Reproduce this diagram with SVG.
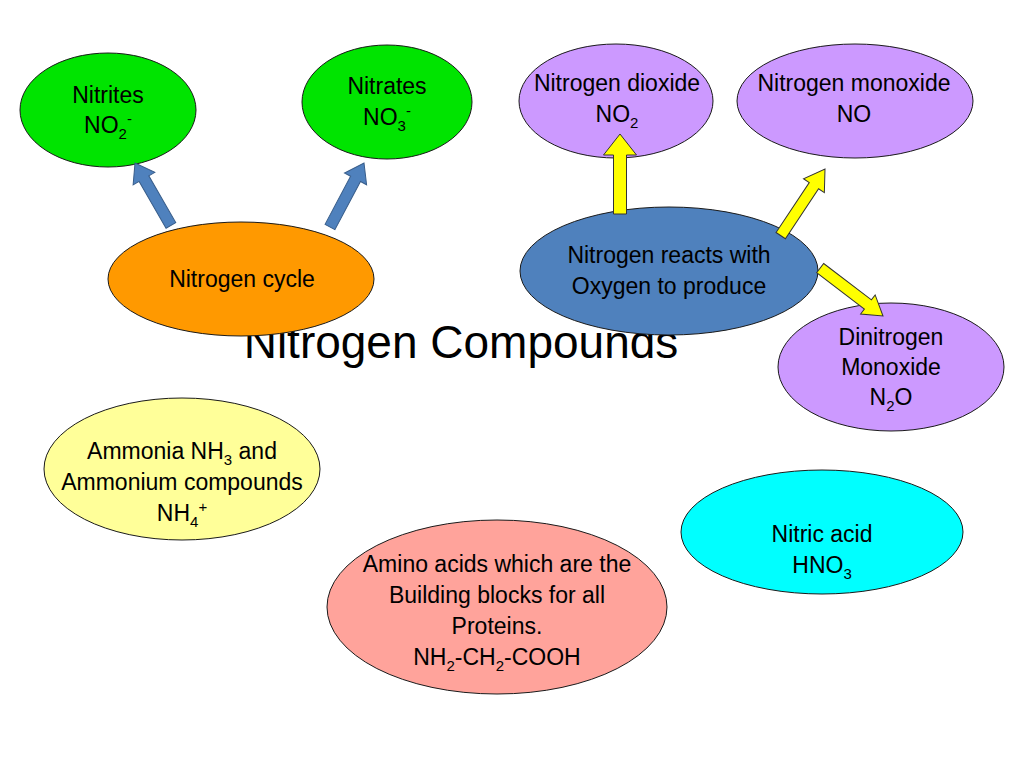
<svg xmlns="http://www.w3.org/2000/svg" width="1024" height="768" viewBox="0 0 1024 768">
<style>
.t{font-family:"Liberation Sans",Arial,sans-serif;font-size:23px;fill:#000;text-anchor:middle}
.title{font-family:"Liberation Sans",Arial,sans-serif;font-size:46px;fill:#000;text-anchor:middle}
.e{stroke:#1a1a1a;stroke-width:1}
.s{font-size:15px}
.ba{fill:#4F81BD;stroke:#385D8A;stroke-width:1}
.ya{fill:#FFFF00;stroke:#333;stroke-width:1}
</style>
<rect width="1024" height="768" fill="#fff"/>
<text class="title" x="461" y="358">Nitrogen Compounds</text>
<g id="nodes">
<g id="nitrites"><ellipse class="e" cx="108" cy="110" rx="88" ry="57" fill="#00E400"/>
<text class="t" x="108" y="103">Nitrites</text>
<text class="t" x="108" y="133">NO<tspan class="s" dy="6">2</tspan><tspan class="s" dy="-15">-</tspan></text></g>
<g id="nitrates"><ellipse class="e" cx="387" cy="102" rx="85" ry="57" fill="#00E400"/>
<text class="t" x="387" y="94">Nitrates</text>
<text class="t" x="387" y="125">NO<tspan class="s" dy="6">3</tspan><tspan class="s" dy="-15">-</tspan></text></g>
<g id="cycle"><ellipse class="e" cx="241" cy="279" rx="133" ry="57" fill="#FF9900"/>
<text class="t" x="242" y="287">Nitrogen cycle</text></g>
<g id="dioxide"><ellipse class="e" cx="616" cy="101" rx="97" ry="57" fill="#CC99FF"/>
<text class="t" x="617" y="91">Nitrogen dioxide</text>
<text class="t" x="617" y="122">NO<tspan class="s" dy="6">2</tspan></text></g>
<g id="monoxide"><ellipse class="e" cx="855" cy="101" rx="118" ry="57" fill="#CC99FF"/>
<text class="t" x="854" y="91">Nitrogen monoxide</text>
<text class="t" x="854" y="122">NO</text></g>
<g id="reacts"><ellipse class="e" cx="669" cy="271" rx="149" ry="64" fill="#4F81BD"/>
<text class="t" x="669" y="263">Nitrogen reacts with</text>
<text class="t" x="669" y="294">Oxygen to produce</text></g>
<g id="dinitrogen"><ellipse class="e" cx="891" cy="367" rx="113" ry="64" fill="#CC99FF"/>
<text class="t" x="891" y="345">Dinitrogen</text>
<text class="t" x="891" y="375">Monoxide</text>
<text class="t" x="891" y="405">N<tspan class="s" dy="6">2</tspan><tspan dy="-6">O</tspan></text></g>
<g id="ammonia"><ellipse class="e" cx="182" cy="469" rx="138" ry="71" fill="#FFFF99"/>
<text class="t" x="182" y="459">Ammonia NH<tspan class="s" dy="6">3</tspan><tspan dy="-6"> and</tspan></text>
<text class="t" x="182" y="490">Ammonium compounds</text>
<text class="t" x="182" y="521">NH<tspan class="s" dy="6">4</tspan><tspan class="s" dy="-15">+</tspan></text></g>
<g id="amino"><ellipse class="e" cx="497" cy="607" rx="170" ry="87" fill="#FFA39B"/>
<text class="t" x="497" y="572">Amino acids which are the</text>
<text class="t" x="497" y="603">Building blocks for all</text>
<text class="t" x="497" y="634">Proteins.</text>
<text class="t" x="497" y="665">NH<tspan class="s" dy="6">2</tspan><tspan dy="-6">-CH</tspan><tspan class="s" dy="6">2</tspan><tspan dy="-6">-COOH</tspan></text></g>
<g id="nitric"><ellipse class="e" cx="822" cy="532" rx="141" ry="62" fill="#00FFFF"/>
<text class="t" x="822" y="542">Nitric acid</text>
<text class="t" x="822" y="573">HNO<tspan class="s" dy="6">3</tspan></text></g>
</g>
<g id="connectors">
<polygon class="ba" transform="translate(135,163) rotate(-119.9)" points="-72,-5.6 -18,-5.6 -18,-12.5 0,0 -18,12.5 -18,5.6 -72,5.6"/>
<polygon class="ba" transform="translate(364,163) rotate(-62)" points="-72.5,-5.6 -18,-5.6 -18,-12.5 0,0 -18,12.5 -18,5.6 -72.5,5.6"/>
<polygon class="ya" transform="translate(620,134) rotate(-90)" points="-80,-6.5 -21,-6.5 -21,-16.5 0,0 -21,16.5 -21,6.5 -80,6.5"/>
<polygon class="ya" transform="translate(825,169) rotate(-56.4)" points="-80,-5.6 -20,-5.6 -20,-12.5 0,0 -20,12.5 -20,5.6 -80,5.6"/>
<polygon class="ya" transform="translate(883,316) rotate(37.3)" points="-79,-5.8 -19,-5.8 -19,-12 0,0 -19,12 -19,5.8 -79,5.8"/>
</g>
</svg>
